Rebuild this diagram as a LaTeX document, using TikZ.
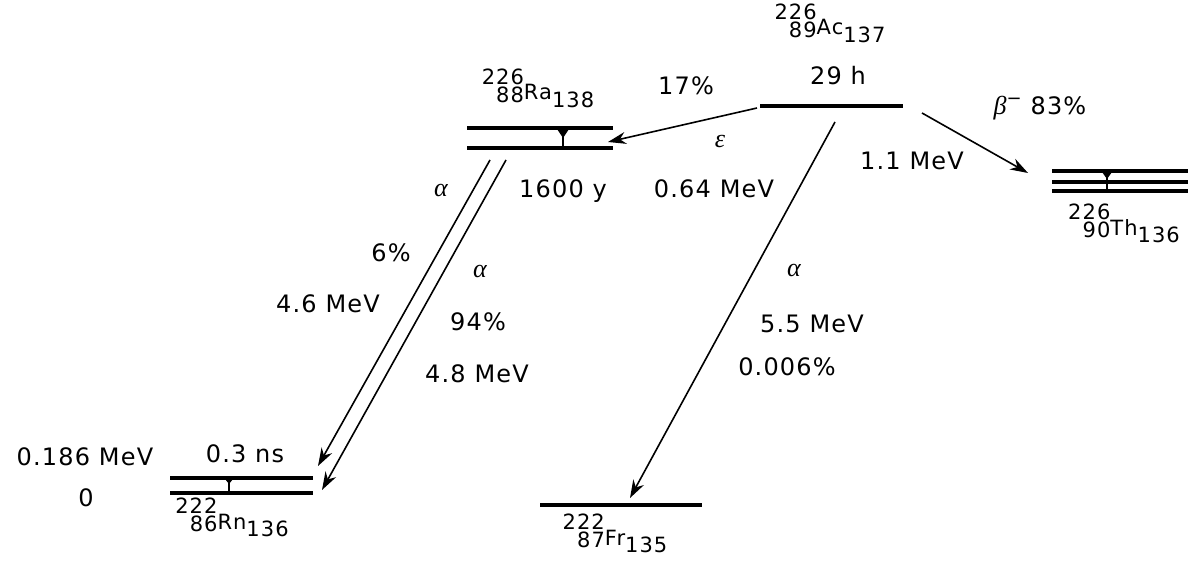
\documentclass[tikz,border=0pt]{standalone}
\usepackage{fontspec}
\setmainfont{DejaVu Sans}[LetterSpace=5]
\newfontfamily\grk{Liberation Serif}
\usetikzlibrary{arrows.meta}
\newdimen\nucw
\newcommand{\nucfont}{\fontsize{10.5}{12}\selectfont}
\newcommand{\gr}[1]{{\grk\itshape\fontsize{13}{15}\selectfont #1}}
\newcommand{\nucl}[4]{{\nucfont\setbox0=\hbox{#1}\setbox2=\hbox{#2}%
\nucw=\wd0 \ifdim\wd2>\nucw \nucw=\wd2 \fi
\makebox[\nucw][r]{\raisebox{7.9pt}{\box0}}\llap{\raisebox{-1.2pt}{\box2}}#3\raisebox{-3.6pt}{#4}}}
\begin{document}
\begin{tikzpicture}[x=0.5pt,y=-0.5pt,
  level/.style={line width=1.6pt},
  trans/.style={line width=0.8pt,-{Stealth[length=9pt,width=6pt]}},
  lbl/.style={font=\fontsize{12}{14}\selectfont,inner sep=0pt,anchor=base},
  nuc/.style={inner sep=0pt,anchor=base}]
\useasboundingbox (0,0) rectangle (1188,561);
% level lines
\coordinate (acL) at (760,106); \coordinate (acR) at (903,106);
\coordinate (raL1) at (467,128); \coordinate (raR1) at (613,128);
\coordinate (raL2) at (467,148); \coordinate (raR2) at (613,148);
\coordinate (thL1) at (1052,171); \coordinate (thR1) at (1188,171);
\coordinate (thL2) at (1052,182); \coordinate (thR2) at (1188,182);
\coordinate (thL3) at (1052,191); \coordinate (thR3) at (1188,191);
\coordinate (rnL1) at (170,478); \coordinate (rnR1) at (313,478);
\coordinate (rnL2) at (170,493); \coordinate (rnR2) at (313,493);
\coordinate (frL) at (540,505); \coordinate (frR) at (702,505);
\foreach \a/\b in {acL/acR,raL1/raR1,raL2/raR2,thL1/thR1,thL2/thR2,thL3/thR3,rnL1/rnR1,rnL2/rnR2,frL/frR}
  \draw[level] (\a) -- (\b);
% T marks
\draw[line width=1.2pt] (563,128) -- (563,148);
\fill (557,129) -- (569,129) -- (563,138) -- cycle;
\draw[line width=1.2pt] (1107,171) -- (1107,191);
\fill (1102,172) -- (1112,172) -- (1107,179) -- cycle;
\draw[line width=1.2pt] (229,478) -- (229,493);
\fill (225,479) -- (233,479) -- (229,484) -- cycle;
% transition end points
\coordinate (acE) at (757,108); \coordinate (raT) at (608,142);
\coordinate (acB) at (922,113); \coordinate (thT) at (1028,173);
\coordinate (acA) at (835,122); \coordinate (frT) at (630,498);
\coordinate (ra1) at (490,160); \coordinate (rn1) at (318,466);
\coordinate (ra2) at (506,160); \coordinate (rn2) at (322,490);
\draw[trans] (acE) -- (raT);
\draw[trans] (acB) -- (thT);
\draw[trans] (acA) -- (frT);
\draw[trans] (ra1) -- (rn1);
\draw[trans] (ra2) -- (rn2);
% nuclide labels
\node[nuc] (nAc) at (830,35) {\nucl{226}{89}{Ac}{137}};
\node[nuc] (nRa) at (538,100) {\nucl{226}{88}{Ra}{138}};
\node[nuc] (nTh) at (1124,235) {\nucl{226}{90}{Th}{136}};
\node[nuc] (nRn) at (232,529) {\nucl{222}{86}{Rn}{136}};
\node[nuc] (nFr) at (615,545) {\nucl{222}{87}{Fr}{135}};
% other labels
\node[lbl] (t1) at (838,85) {29 h};
\node[lbl] (t2) at (686,95) {17\%};
\node[lbl] (t3) at (720,148) {\gr{ε}};
\node[lbl] (t4) at (714,198) {0.64 MeV};
\node[lbl] (t5) at (563,198) {1600 y};
\node[lbl] (t6) at (912,170) {1.1 MeV};
\node[lbl] (t7) at (1040,115) {\gr{β}\raisebox{5pt}{\fontsize{9}{10}\selectfont −} 83\%};
\node[lbl] (t8) at (441,197) {\gr{α}};
\node[lbl] (t9) at (391,262) {6\%};
\node[lbl] (t10) at (328,312) {4.6 MeV};
\node[lbl] (t11) at (480,278) {\gr{α}};
\node[lbl] (t12) at (478,330) {94\%};
\node[lbl] (t13) at (477,382) {4.8 MeV};
\node[lbl] (t14) at (794,277) {\gr{α}};
\node[lbl] (t15) at (812,332) {5.5 MeV};
\node[lbl] (t16) at (787,375) {0.006\%};
\node[lbl] (t17) at (85,465) {0.186 MeV};
\node[lbl] (t18) at (86,506) {0};
\node[lbl] (t19) at (245,462) {0.3 ns};
\end{tikzpicture}
\end{document}
